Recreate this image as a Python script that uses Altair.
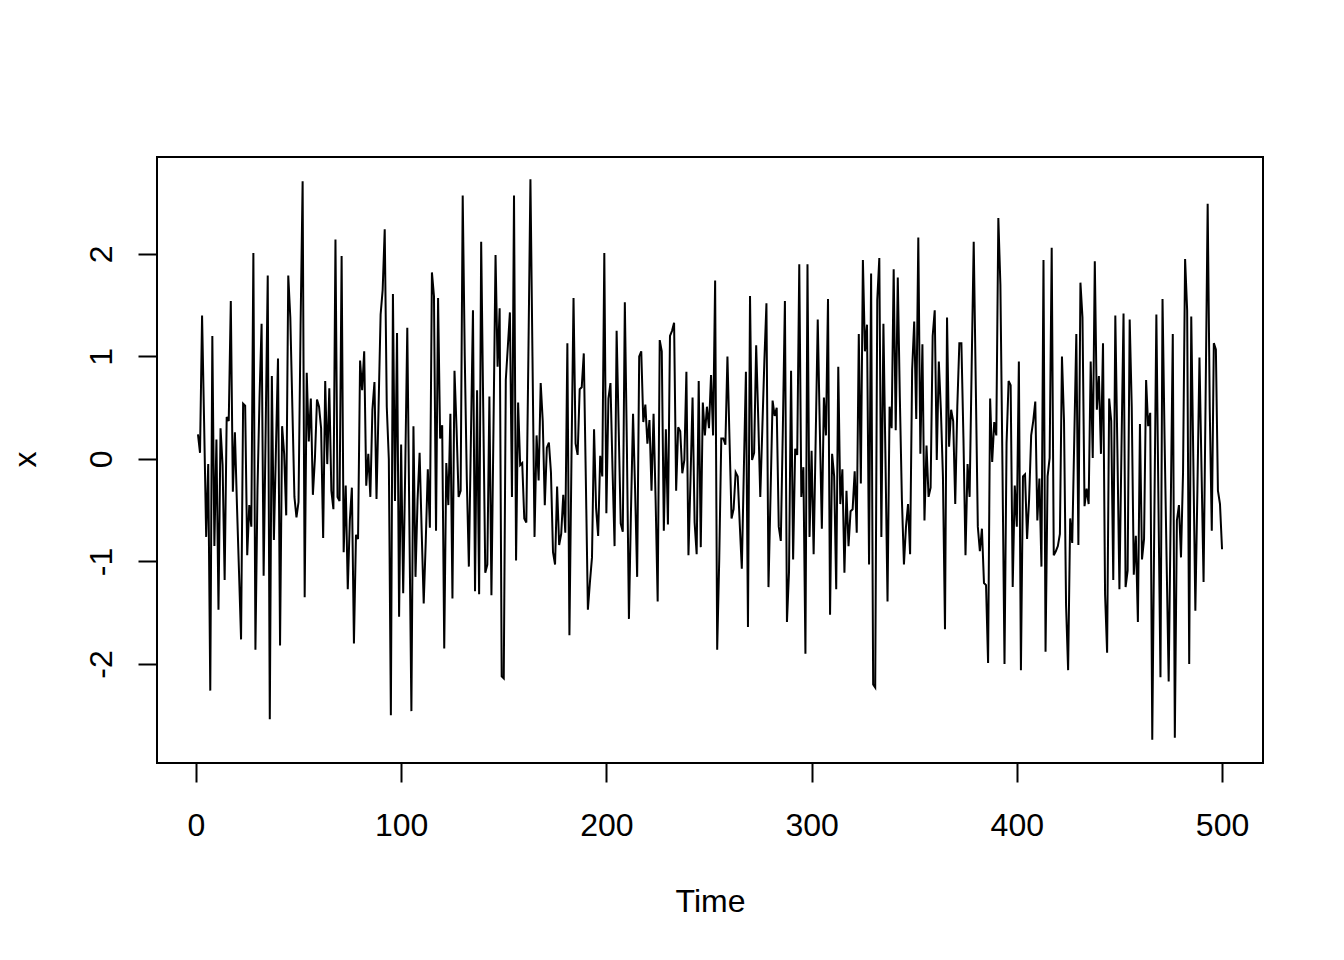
import altair as alt
import pandas as pd

# Series values, in blocks of time steps
x_001_040 = [0.24, 0.06, 1.40, 0.35, -0.76, -0.05, -2.26, 1.20, -0.85, 0.19,
             -1.47, 0.30, -0.06, -1.18, 0.41, 0.37, 1.54, -0.32, 0.26, -0.45,
             -1.10, -1.76, 0.54, 0.52, -0.94, -0.45, -0.66, 2.01, -1.86, -0.30,
             0.60, 1.32, -1.14, 0.30, 1.79, -2.54, 0.81, -0.79, 0.10, 0.98]
x_041_082 = [-1.82, 0.32, 0.05, -0.55, 1.79, 1.38, 0.5, -0.37, -0.57, -0.42,
             1.3, 2.71, -1.35, 0.84, 0.17, 0.59, -0.35, 0.01, 0.58, 0.51,
             0.30, -0.77, 0.76, -0.05, 0.69, -0.31, -0.49, 2.14, -0.37, -0.41,
             1.98, -0.91, -0.26, -1.27, -0.6, -0.28, -1.80, -0.74, -0.78, 0.96,
             0.67, 1.05]
x_083_124 = [-0.26, 0.05, -0.37, 0.48, 0.75, -0.39, 0.5, 1.41, 1.65, 2.24,
             0.51, 0.0, -2.50, 1.61, -0.41, 1.23, -1.54, 0.14, -1.31, -0.1,
             1.28, -0.6, -2.46, 0.32, -1.15, -0.40, 0.06, -0.7, -1.41, -0.8,
             -0.10, -0.67, 1.82, 1.59, -0.70, 1.57, 0.20, 0.33, -1.85, -0.04,
             -0.45, 0.44]
x_125_165 = [-1.36, 0.86, 0.30, -0.37, -0.31, 2.57, 1.0, -0.2, -1.05, 0.2,
             1.45, -1.29, 0.67, -1.32, 2.12, 0.5, -1.11, -1.03, 0.61, -1.33,
             0.3, 1.99, 0.90, 1.47, -2.12, -2.14, 0.77, 1.1, 1.43, -0.37,
             2.57, -0.99, 0.55, -0.06, -0.04, -0.58, -0.62, 1.0, 2.73, 1.0,
             -0.76]
x_166_207 = [0.23, -0.21, 0.74, 0.37, -0.45, 0.11, 0.16, -0.13, -0.91, -1.03,
             -0.27, -0.84, -0.73, -0.35, -0.72, 1.13, -1.72, 0.0, 1.57, 0.15,
             0.04, 0.68, 0.70, 1.03, -0.2, -1.47, -1.2, -0.96, 0.29, -0.48,
             -0.75, 0.03, -0.17, 2.01, -0.53, 0.59, 0.74, -0.1, -0.85, 1.25,
             0.3, -0.63]
x_208_249 = [-0.71, 1.53, 0.12, -1.56, -0.5, 0.44, -0.3, -1.15, 1.00, 1.05,
             0.36, 0.53, 0.15, 0.38, -0.31, 0.44, -0.4, -1.39, 1.16, 1.05,
             -0.70, 0.29, -0.64, 1.20, 1.25, 1.33, -0.31, 0.31, 0.27, -0.14,
             -0.01, 0.85, -0.94, -0.2, 0.60, -0.62, -0.93, 0.76, -0.86, 0.55,
             0.23, 0.51]
x_250_291 = [0.3, 0.82, 0.23, 1.74, -1.86, -0.98, 0.20, 0.20, 0.14, 1.00,
             0.2, -0.58, -0.49, -0.13, -0.17, -0.64, -1.07, -0.1, 0.85, -1.64,
             1.59, -0.01, 0.06, 1.11, 0.4, -0.37, 0.3, 0.96, 1.52, -1.25,
             -0.35, 0.57, 0.42, 0.50, -0.66, -0.80, 0.3, 1.54, -1.59, -1.10,
             0.86, -0.98]
x_292_333 = [0.10, 0.04, 1.90, -0.37, -0.08, -1.90, 1.90, -0.76, 0.08, -0.93,
             0.2, 1.36, 0.3, -0.68, 0.60, 0.23, 1.56, -1.52, 0.05, -0.17,
             -1.27, 0.90, -0.44, -0.10, -1.11, -0.31, -0.85, -0.51, -0.49, -0.12,
             -0.72, 1.22, -0.24, 1.94, 1.05, 1.31, -1.03, 1.81, -2.20, -2.23,
             1.55, 1.96]
x_334_375 = [-0.76, 1.32, 0.0, -1.39, 0.51, 0.30, 1.85, 0.28, 1.77, 0.6,
             -0.39, -1.03, -0.66, -0.44, -0.93, 0.87, 1.34, 0.39, 2.16, 0.05,
             1.12, -0.60, 0.13, -0.37, -0.28, 1.20, 1.45, -0.01, 0.95, 0.48,
             -0.17, -1.66, 1.38, 0.12, 0.48, 0.37, -0.44, 0.51, 1.13, 1.13,
             0.2, -0.94]
x_376_417 = [-0.05, -0.37, 0.9, 2.12, 0.73, -0.66, -0.90, -0.68, -1.21, -1.23,
             -1.99, 0.59, -0.03, 0.36, 0.23, 2.35, 1.70, -0.06, -2.00, 0.15,
             0.76, 0.72, -1.25, -0.26, -0.66, 0.95, -2.06, -0.17, -0.15, -0.78,
             -0.39, 0.23, 0.37, 0.56, -0.60, -0.19, -1.05, 1.94, -1.88, -0.17,
             0.01, 2.06]
x_418_459 = [-0.94, -0.9, -0.85, -0.73, 1.00, 0.37, -1.43, -2.06, -0.58, -0.82,
             0.2, 1.22, -0.84, 1.72, 1.38, -0.46, -0.29, -0.44, 0.95, 0.01,
             1.93, 0.48, 0.81, 0.05, 1.13, -1.32, -1.89, 0.59, 0.37, -1.18,
             1.40, 0.1, -1.27, 0.1, 1.42, -1.25, -1.09, 1.36, 0.51, -1.13,
             -0.75, -1.59]
x_460_500 = [0.34, -0.98, -0.78, 0.77, 0.32, 0.45, -2.74, -0.6, 1.41, -0.4,
             -2.13, 1.56, 0.2, -1.0, -2.17, -0.5, 1.22, -2.72, -0.6, -0.45,
             -0.96, -0.13, 1.95, 1.45, -2.00, 1.39, 0.0, -1.48, -0.3, 0.99,
             -0.1, -1.20, 0.6, 2.49, 0.5, -0.70, 1.13, 1.07, -0.31, -0.44,
             -0.88]

x_ticks = [0, 100, 200, 300, 400, 500]
y_ticks = [-2, -1, 0, 1, 2]

values = (x_001_040 + x_041_082 + x_083_124 + x_125_165 + x_166_207 + x_208_249
          + x_250_291 + x_292_333 + x_334_375 + x_376_417 + x_418_459 + x_460_500)
df = pd.DataFrame({"Time": list(range(1, len(values) + 1)), "x": values})

FONT = "Liberation Sans"
FS = 32

chart = alt.Chart(df).mark_line(color="black", strokeWidth=2).encode(
    x=alt.X("Time:Q",
            scale=alt.Scale(domain=[-18.96, 519.96], nice=False, zero=False),
            axis=alt.Axis(values=x_ticks, title="Time", grid=False, domain=False,
                          tickSize=19, tickColor="black", tickWidth=2,
                          labelFont=FONT, labelFontSize=FS, labelColor="black",
                          labelBaseline="alphabetic", labelPadding=53.5,
                          labelFlush=False, labelOverlap=False, labelBound=False,
                          labelExpr="toString(datum.value)",
                          titleFont=FONT, titleFontSize=FS, titleFontWeight="normal",
                          titleColor="black", titleX=553, titleY=148.5,
                          titleAlign="center", titleBaseline="alphabetic", titleAngle=0)),
    y=alt.Y("x:Q",
            scale=alt.Scale(domain=[-2.966, 2.946], nice=False, zero=False),
            axis=alt.Axis(values=y_ticks, title="x", grid=False, domain=False,
                          tickSize=19, tickColor="black", tickWidth=2,
                          labelFont=FONT, labelFontSize=FS, labelColor="black",
                          labelAngle=270, labelAlign="center", labelBaseline="alphabetic",
                          labelPadding=26.5, labelFlush=False, labelOverlap=False,
                          labelBound=False, labelExpr="toString(datum.value)",
                          titleFont=FONT, titleFontSize=FS, titleFontWeight="normal",
                          titleColor="black", titleAngle=270, titleX=-121.7, titleY=302,
                          titleAlign="center", titleBaseline="alphabetic")),
).properties(
    width=1106, height=606,
    padding={"left": 149, "top": 149, "right": 73, "bottom": 189},
    autosize=alt.AutoSizeParams(type="none"),
).configure_view(stroke="black", strokeWidth=2)

chart.save("out.html", embed_options={"renderer": "svg", "actions": False})
